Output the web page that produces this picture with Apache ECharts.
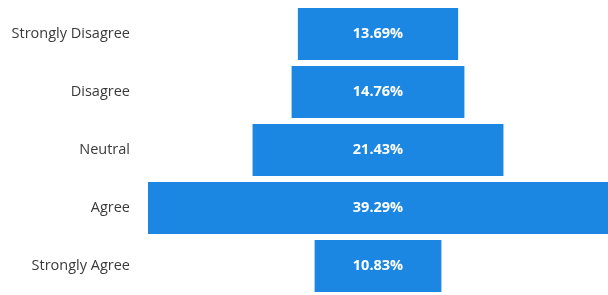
<html>
    <head>
        <meta charset="utf-8">
        <script src="https://cdn.jsdelivr.net/npm/echarts@6/dist/echarts.min.js"></script>
    </head>
    <body style="margin:0;background:#fff">
        <div id="main" style="width:608px;height:295px"></div>
        <script>
            // responses, top to bottom
            var categories = ['Strongly Disagree', 'Disagree', 'Neutral', 'Agree', 'Strongly Agree'];
            var values = [13.69, 14.76, 21.43, 39.29, 10.83];

            var maxVal = Math.max.apply(null, values);
            // invisible offset so each bar sits centred on the widest one
            var offsets = values.map(function (v) {
                return (maxVal - v) / 2;
            });

            var chart = echarts.init(document.getElementById('main'));
            chart.setOption({
                animation: false,
                grid: {left: 148, top: 5, width: 472, height: 298},
                xAxis: {
                    type: 'value',
                    min: 0,
                    max: maxVal,
                    show: false
                },
                yAxis: {
                    type: 'category',
                    inverse: true,
                    data: categories,
                    axisLine: {show: false},
                    axisTick: {show: false},
                    axisLabel: {
                        margin: 18,
                        color: '#3a3a3a',
                        fontSize: 14.5,
                        fontFamily: 'Open Sans'
                    }
                },
                series: [
                    {
                        type: 'bar',
                        stack: 'f',
                        data: offsets,
                        itemStyle: {color: 'transparent'},
                        barWidth: '90%',
                        silent: true
                    },
                    {
                        type: 'bar',
                        stack: 'f',
                        data: values,
                        barWidth: '90%',
                        itemStyle: {color: '#1c87e2'},
                        label: {
                            show: true,
                            position: 'inside',
                            color: '#fff',
                            fontWeight: 'bold',
                            fontSize: 14.5,
                            fontFamily: 'Open Sans',
                            formatter: function (p) {
                                return p.value.toFixed(2) + '%';
                            }
                        }
                    }
                ]
            });
        </script>
    </body>
</html>
